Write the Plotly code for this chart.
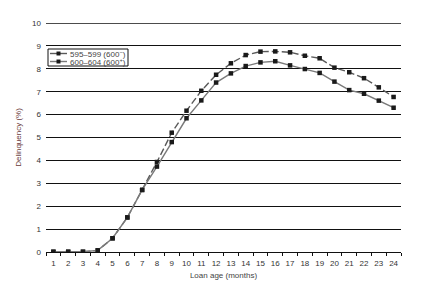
import plotly.graph_objects as go

months = list(range(1, 25))
tick_labels = [str(m) for m in months]
series_a_name = "595–599 (600<sup>−</sup>)"
series_b_name = "600–604 (600<sup>+</sup>)"
series_a = [0.01, 0.01, 0.01, 0.07, 0.60, 1.51, 2.71, 3.93, 5.21, 6.17, 7.04, 7.74,
            8.24, 8.60, 8.75, 8.76, 8.72, 8.57, 8.46, 8.05, 7.85, 7.59, 7.19, 6.77]
series_b = [0.01, 0.01, 0.01, 0.07, 0.60, 1.51, 2.71, 3.73, 4.80, 5.84, 6.62, 7.40,
            7.80, 8.12, 8.28, 8.33, 8.15, 7.99, 7.82, 7.44, 7.07, 6.91, 6.61, 6.30]
y_ticks = list(range(0, 11))

font = "Liberation Sans, Arial, sans-serif"
color_a = "#5a5a5a"
color_b = "#7a7a7a"
marker_color = "#1a1a1a"
fs = 8

fig = go.Figure()
fig.add_trace(go.Scatter(
    x=months, y=series_a, name=series_a_name, mode="lines+markers",
    line=dict(color=color_a, width=1.4, dash="7px,3px"),
    marker=dict(symbol="square", size=4.5, color=marker_color),
))
fig.add_trace(go.Scatter(
    x=months, y=series_b, name=series_b_name, mode="lines+markers",
    line=dict(color=color_b, width=1.4),
    marker=dict(symbol="square", size=4.5, color=marker_color),
))

# top gridline at 10 (edge of range)
fig.add_shape(type="line", xref="paper", yref="y", x0=0, x1=1, y0=y_ticks[-1], y1=y_ticks[-1],
              line=dict(color="#111", width=1.3), layer="below")

# compact legend drawn as shapes + text
L, W, B, H = 46, 355, 252, 229
def px(x):
    return (x - L) / W
def py(y):
    return (B - y) / H

fig.add_shape(type="rect", xref="paper", yref="paper",
              x0=px(48), x1=px(128), y0=py(66), y1=py(49),
              line=dict(color="#111", width=1), fillcolor="white", layer="above")
for name, col, yy in [(series_a_name, color_a, 53.5), (series_b_name, color_b, 61.5)]:
    fig.add_shape(type="line", xref="paper", yref="paper",
                  x0=px(50), x1=px(67), y0=py(yy), y1=py(yy),
                  line=dict(color=col, width=1.4), layer="above")
    fig.add_shape(type="rect", xref="paper", yref="paper",
                  x0=px(56.5), x1=px(60.5), y0=py(yy + 2), y1=py(yy - 2),
                  line=dict(color=marker_color, width=0), fillcolor=marker_color, layer="above")
    fig.add_annotation(xref="paper", yref="paper", x=px(67.5), y=py(yy),
                       xanchor="left", yanchor="middle", text=name, showarrow=False,
                       font=dict(size=fs, color="#444"))

fig.update_layout(
    width=434, height=282,
    margin=dict(l=46, r=33, t=23, b=30, autoexpand=False),
    paper_bgcolor="white", plot_bgcolor="white",
    font=dict(family=font, size=fs, color="#333"),
    showlegend=False,
    xaxis=dict(
        range=[0.5, 24.5], tickmode="array", tickvals=months, ticktext=tick_labels,
        ticks="", showgrid=False, zeroline=False, automargin=False,
        showline=True, linecolor="#111", linewidth=1, ticklabelstandoff=3,
        tickfont=dict(size=fs, color="#333"),
        minor=dict(tick0=0.5, dtick=1, ticks="outside", ticklen=3,
                   tickcolor="#111", tickwidth=1, showgrid=False),
        title=dict(text="Loan age (months)", font=dict(size=fs, color="#444"), standoff=5),
        fixedrange=True,
    ),
    yaxis=dict(
        range=[0, 10], tickmode="array", tickvals=y_ticks, automargin=False,
        showgrid=True, gridcolor="#111", gridwidth=1,
        zeroline=False, showline=False, ticks="", ticklabelstandoff=4,
        tickfont=dict(size=fs, color="#333"),
        title=dict(text="Delinquency (%)", font=dict(size=fs, color="#6a3a3a"), standoff=9),
        fixedrange=True,
    ),
)

fig.write_html("out.html")
